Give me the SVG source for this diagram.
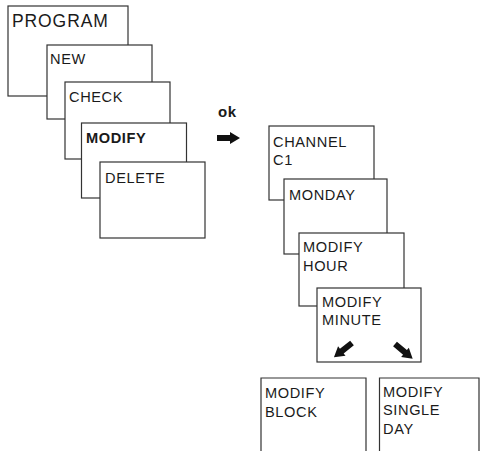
<svg xmlns="http://www.w3.org/2000/svg" width="480" height="451" viewBox="0 0 480 451">
<style>
.box{fill:#fff;stroke:#333;stroke-width:1.2}
.t{font-family:"Liberation Sans",Arial,sans-serif;font-size:14.6px;letter-spacing:0.6px;fill:#1a1a1a}
.b{font-weight:bold}
.big{font-size:17.5px;letter-spacing:0.9px}
.arr{fill:#111}
</style>
<defs>
<path id="blk" d="M0,-3 H13 V-6 L23,0 L13,6 V3 H0 Z"/>
</defs>
<g id="program"><rect class="box" x="8" y="6" width="120" height="90"/><text class="t big" x="12" y="27">PROGRAM</text></g>
<g id="new"><rect class="box" x="47" y="45" width="105" height="74"/><text class="t" x="50" y="64">NEW</text></g>
<g id="check"><rect class="box" x="65" y="82" width="105" height="77"/><text class="t" x="69" y="102">CHECK</text></g>
<g id="modify"><rect class="box" x="81.5" y="123" width="105" height="75"/><text class="t b" x="86" y="143">MODIFY</text></g>
<g id="delete"><rect class="box" x="100" y="162" width="105" height="76"/><text class="t" x="105" y="183">DELETE</text></g>
<g id="ok"><text class="t b" x="218" y="117" style="font-size:15px;letter-spacing:0.5px">ok</text></g>
<g id="channel"><rect class="box" x="269" y="126" width="105" height="74"/><text class="t" x="273" y="147">CHANNEL</text><text class="t" x="273" y="165">C1</text></g>
<g id="monday"><rect class="box" x="284" y="179" width="103" height="75"/><text class="t" x="289" y="200">MONDAY</text></g>
<g id="hour"><rect class="box" x="299" y="233" width="105" height="73"/><text class="t" x="303" y="252">MODIFY</text><text class="t" x="303" y="271">HOUR</text></g>
<g id="minute"><rect class="box" x="317" y="288" width="104" height="74"/><text class="t" x="322" y="307">MODIFY</text><text class="t" x="322" y="325">MINUTE</text></g>
<g id="block"><path class="box" d="M261,455 V378 H366 V455"/><text class="t" x="265" y="398">MODIFY</text><text class="t" x="265" y="417">BLOCK</text></g>
<g id="singleday"><path class="box" d="M379.5,455 V378 H479 V455"/><text class="t" x="383" y="397">MODIFY</text><text class="t" x="383" y="415">SINGLE</text><text class="t" x="383" y="434">DAY</text></g>
<g id="connectors">
<use href="#blk" class="arr" transform="translate(217,138)"/>
<use href="#blk" class="arr" transform="translate(352,343) rotate(141.7)"/>
<use href="#blk" class="arr" transform="translate(395,344) rotate(39.8)"/>
</g>
</svg>
